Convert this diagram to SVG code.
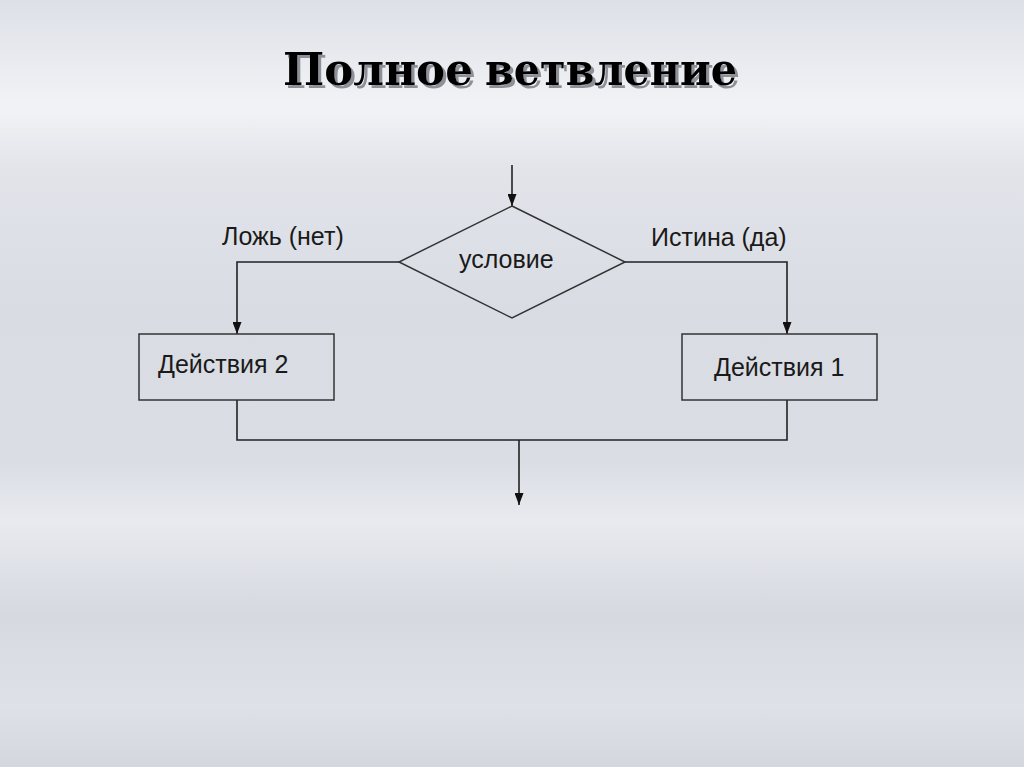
<svg xmlns="http://www.w3.org/2000/svg" width="1024" height="767" viewBox="0 0 1024 767">
<defs>
<linearGradient id="bg" x1="0" y1="0" x2="0" y2="1">
<stop offset="0" stop-color="#dde0e7"/>
<stop offset="0.14" stop-color="#f2f3f6"/>
<stop offset="0.22" stop-color="#e2e4ea"/>
<stop offset="0.4" stop-color="#d9dce3"/>
<stop offset="0.6" stop-color="#dadde4"/>
<stop offset="0.68" stop-color="#e8eaef"/>
<stop offset="0.8" stop-color="#d6d9e0"/>
<stop offset="0.92" stop-color="#dee1e7"/>
<stop offset="1" stop-color="#d4d7de"/>
</linearGradient>
<filter id="sh" x="-5%" y="-20%" width="110%" height="150%">
<feOffset in="SourceAlpha" dx="3" dy="3" result="o"/>
<feFlood flood-color="#8e9097"/>
<feComposite in2="o" operator="in" result="s"/>
<feMerge><feMergeNode in="s"/><feMergeNode in="SourceGraphic"/></feMerge>
</filter>
<marker id="arr" viewBox="0 0 10 10" refX="10" refY="5" markerWidth="12" markerHeight="9" markerUnits="userSpaceOnUse" orient="auto" preserveAspectRatio="none">
<path d="M0,0 L10,5 L0,10 Z" fill="#111"/>
</marker>
<style>
.ln{fill:none;stroke:#222;stroke-width:1.6}
.bx{fill:none;stroke:#333;stroke-width:1.5}
.t{font-family:"Liberation Sans",Arial,sans-serif;font-size:25px;fill:#1a1a1a}
.title{font-family:"DejaVu Serif","Liberation Serif",serif;font-weight:bold;font-size:44px}
</style>
</defs>
<rect width="1024" height="767" fill="url(#bg)"/>
<g id="title" filter="url(#sh)">
<text class="title" x="283" y="85" fill="#000" textLength="190" lengthAdjust="spacingAndGlyphs">Полное</text>
<text class="title" x="485" y="85" fill="#000" textLength="252" lengthAdjust="spacingAndGlyphs">ветвление</text>
</g>
<g id="connectors">
<line class="ln" x1="512" y1="165" x2="512" y2="206" marker-end="url(#arr)"/>
<polyline class="ln" points="399,262 237,262 237,334" marker-end="url(#arr)"/>
<polyline class="ln" points="625,262 787,262 787,334" marker-end="url(#arr)"/>
<polyline class="ln" points="237,400 237,440 787,440 787,400"/>
<line class="ln" x1="519" y1="440" x2="519" y2="505" marker-end="url(#arr)"/>
</g>
<g id="label-false"><text class="t" x="222" y="245">Ложь (нет)</text></g>
<g id="label-true"><text class="t" x="651" y="246">Истина (да)</text></g>
<g id="condition">
<polygon class="bx" points="512,206 625,262 512,318 399,262"/>
<text class="t" x="459" y="268">условие</text>
</g>
<g id="action2">
<rect class="bx" x="139" y="334" width="195" height="66"/>
<text class="t" x="158" y="373">Действия 2</text>
</g>
<g id="action1">
<rect class="bx" x="682" y="334" width="195" height="66"/>
<text class="t" x="714" y="376">Действия 1</text>
</g>
</svg>
